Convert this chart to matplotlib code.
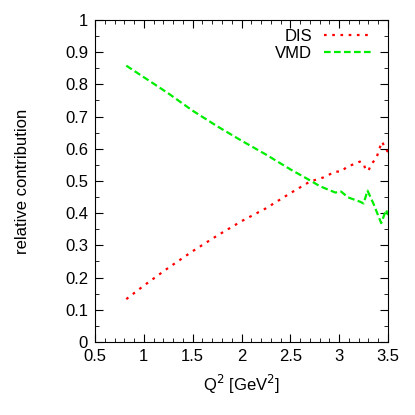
import matplotlib
matplotlib.use("Agg")
import matplotlib.pyplot as plt
from matplotlib.ticker import MultipleLocator

plt.rcParams['font.family'] = ['Liberation Sans', 'DejaVu Sans']

q2_dis = [0.82, 1.0, 1.25, 1.5, 1.75, 2.0, 2.25, 2.5, 2.7, 2.84, 2.96, 3.02,
          3.08, 3.15, 3.21, 3.25, 3.27, 3.30, 3.33, 3.38, 3.42, 3.44, 3.47, 3.50]
dis = [0.133, 0.175, 0.23, 0.282, 0.33, 0.375, 0.415, 0.462, 0.498, 0.511, 0.529, 0.529,
       0.544, 0.552, 0.56, 0.555, 0.534, 0.532, 0.553, 0.57, 0.607, 0.622, 0.601, 0.59]

q2_vmd = [0.82, 1.0, 1.25, 1.5, 1.75, 2.0, 2.25, 2.5, 2.7, 2.80, 2.96, 3.02,
          3.09, 3.21, 3.25, 3.29, 3.35, 3.43, 3.48, 3.50]
vmd = [0.858, 0.822, 0.772, 0.718, 0.67, 0.625, 0.582, 0.536, 0.502, 0.484, 0.464, 0.467,
       0.449, 0.436, 0.43, 0.47, 0.43, 0.369, 0.41, 0.394]

xticks = [0.5, 1, 1.5, 2, 2.5, 3, 3.5]
xlabels = ['0.5', '1', '1.5', '2', '2.5', '3', '3.5']
yticks = [0, 0.1, 0.2, 0.3, 0.4, 0.5, 0.6, 0.7, 0.8, 0.9, 1]
ylabels = ['0', '0.1', '0.2', '0.3', '0.4', '0.5', '0.6', '0.7', '0.8', '0.9', '1']

fig = plt.figure(figsize=(4.15, 4.15), dpi=100)
ax = fig.add_axes([0.229, 0.176, 0.706, 0.776])

ax.plot(q2_dis, dis, color='#ff0000', lw=1.6, ls=(0, (1.2, 2.5)), label='DIS')
ax.plot(q2_vmd, vmd, color='#00ee00', lw=1.6, ls=(0, (3.0, 1.5)), label='VMD')

ax.set_xlim(0.5, 3.5)
ax.set_ylim(0, 1)
ax.set_xticks(xticks)
ax.set_xticklabels(xlabels)
ax.set_yticks(yticks)
ax.set_yticklabels(ylabels)
ax.xaxis.set_minor_locator(MultipleLocator(0.1))
ax.yaxis.set_minor_locator(MultipleLocator(0.05))
ax.tick_params(which='both', direction='in', top=True, right=True, labelsize=12, pad=5)
ax.tick_params(which='major', length=6)
ax.tick_params(which='minor', length=3)

ax.set_xlabel('Q$^2$ [GeV$^2$]', fontsize=12, labelpad=6.5)
ax.set_ylabel('relative contribution', fontsize=12, labelpad=25)

ax.legend(loc='upper right', bbox_to_anchor=(0.972, 1.0), frameon=False, markerfirst=False,
          fontsize=12, handlelength=2.8, handletextpad=0.7, labelspacing=0.1,
          borderaxespad=0.15)

fig.savefig('out.png', dpi=100)
